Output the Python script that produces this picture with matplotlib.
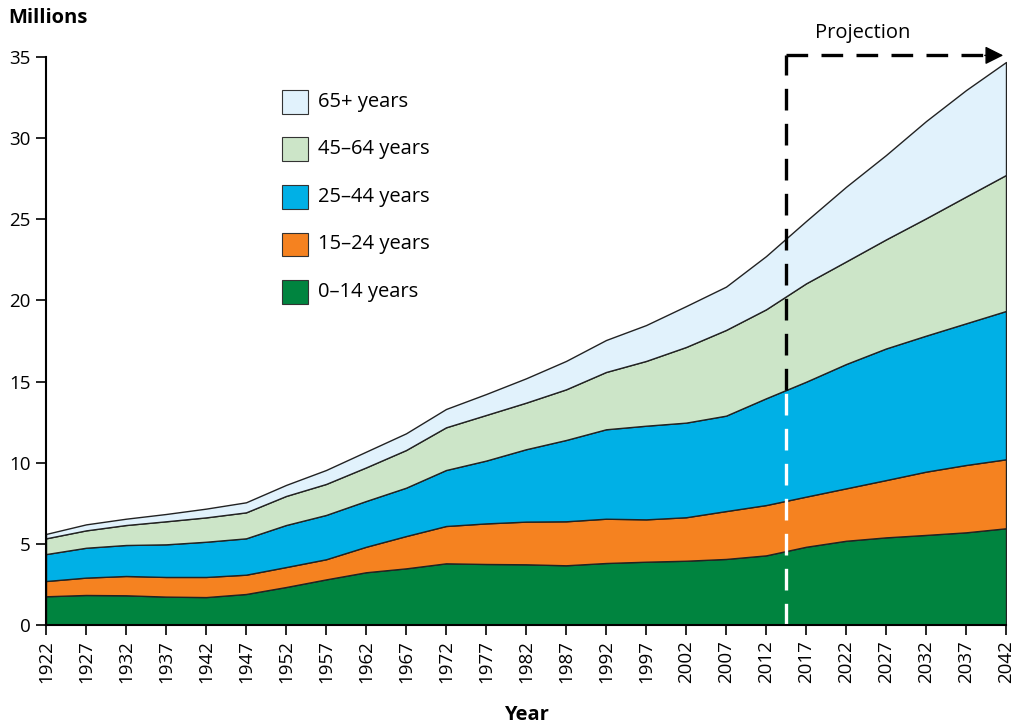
import numpy as np
import matplotlib.pyplot as plt
from matplotlib.patches import Rectangle

plt.rcParams['font.family'] = ['Open Sans', 'DejaVu Sans']

years = list(range(1922, 2043, 5))
age_0_14 = [1.77, 1.85, 1.83, 1.75, 1.72, 1.91, 2.34, 2.81, 3.25, 3.49, 3.80, 3.76, 3.74,
            3.68, 3.82, 3.90, 3.96, 4.07, 4.29, 4.82, 5.19, 5.40, 5.55, 5.71, 5.96]
age_15_24 = [0.94, 1.07, 1.19, 1.21, 1.24, 1.19, 1.23, 1.24, 1.57, 1.99, 2.30, 2.50, 2.63,
             2.71, 2.73, 2.61, 2.68, 2.95, 3.10, 3.09, 3.23, 3.53, 3.90, 4.15, 4.25]
age_25_44 = [1.66, 1.84, 1.91, 2.01, 2.17, 2.24, 2.59, 2.73, 2.82, 2.98, 3.45, 3.87, 4.46,
             5.01, 5.51, 5.77, 5.83, 5.88, 6.58, 7.08, 7.66, 8.11, 8.38, 8.73, 9.14]
age_45_64 = [0.97, 1.07, 1.23, 1.42, 1.50, 1.60, 1.79, 1.91, 2.07, 2.32, 2.63, 2.81, 2.87,
             3.12, 3.53, 3.99, 4.66, 5.28, 5.48, 6.06, 6.32, 6.72, 7.23, 7.81, 8.38]
age_65 = [0.27, 0.37, 0.39, 0.45, 0.54, 0.62, 0.68, 0.86, 0.97, 1.03, 1.13, 1.29, 1.50,
          1.75, 1.97, 2.21, 2.52, 2.67, 3.28, 3.84, 4.60, 5.20, 5.99, 6.56, 6.96]

labels = ['0\u201314 years', '15\u201324 years', '25\u201344 years', '45\u201364 years', '65+ years']
colors = ['#00843f', '#f58220', '#00b0e6', '#cce5c8', '#e1f2fc']
projection_start = 2014.5

fig = plt.figure(figsize=(10.19, 7.28), dpi=100)
ax = fig.add_axes([46 / 1019, 103 / 728, 960 / 1019, 568 / 728])

series = [age_0_14, age_15_24, age_25_44, age_45_64, age_65]
bottom = np.zeros(len(years))
for vals, col in zip(series, colors):
    top = bottom + np.array(vals)
    ax.fill_between(years, bottom, top, facecolor=col, edgecolor='#222222', linewidth=1)
    bottom = top

ax.set_xlim(1922, 2042)
ax.set_ylim(0, 35)
ax.set_xticks(years)
ax.set_xticklabels([str(y) for y in years], rotation=90)
ax.set_yticks(range(0, 36, 5))
ax.tick_params(direction='out', length=7, width=1.2, labelsize=13.5, pad=4)
ax.spines[['top', 'right']].set_visible(False)
ax.spines[['left', 'bottom']].set_linewidth(1.5)

# projection marker: white dashes over dark layers, black above
blue_top = np.interp(projection_start, years,
                     np.array(age_0_14) + np.array(age_15_24) + np.array(age_25_44))
dash = dict(linewidth=2.4, dashes=(6.5, 4), clip_on=False)
ax.plot([projection_start, projection_start], [0, blue_top], color='white', **dash)
ax.plot([projection_start, projection_start], [blue_top, 35.1], color='black', **dash)
ax.plot([projection_start, 2039.6], [35.1, 35.1], color='black', **dash)
ax.annotate('', xy=(2042, 35.1), xytext=(2039.0, 35.1),
            arrowprops=dict(arrowstyle='-|>', mutation_scale=28, color='black', lw=1),
            annotation_clip=False)
ax.text(2024.1, 36.5, 'Projection', ha='center', va='center', fontsize=14.5)

# legend, top entry first
for i, (lab, col) in enumerate(zip(labels[::-1], colors[::-1])):
    yc = 0.921 - i * 0.0837
    ax.add_patch(Rectangle((0.2458, yc - 0.021), 0.027, 0.042, transform=ax.transAxes,
                           facecolor=col, edgecolor='#333333', linewidth=0.8))
    ax.text(0.283, yc, lab, transform=ax.transAxes, va='center', fontsize=14.5)

fig.text(8 / 1019, 1 - 18 / 728, 'Millions', fontsize=14.5, fontweight='bold', va='center')
fig.text(526 / 1019, 1 - 715 / 728, 'Year', fontsize=14.5, fontweight='bold',
         ha='center', va='center')

fig.savefig('out.png', dpi=100)
